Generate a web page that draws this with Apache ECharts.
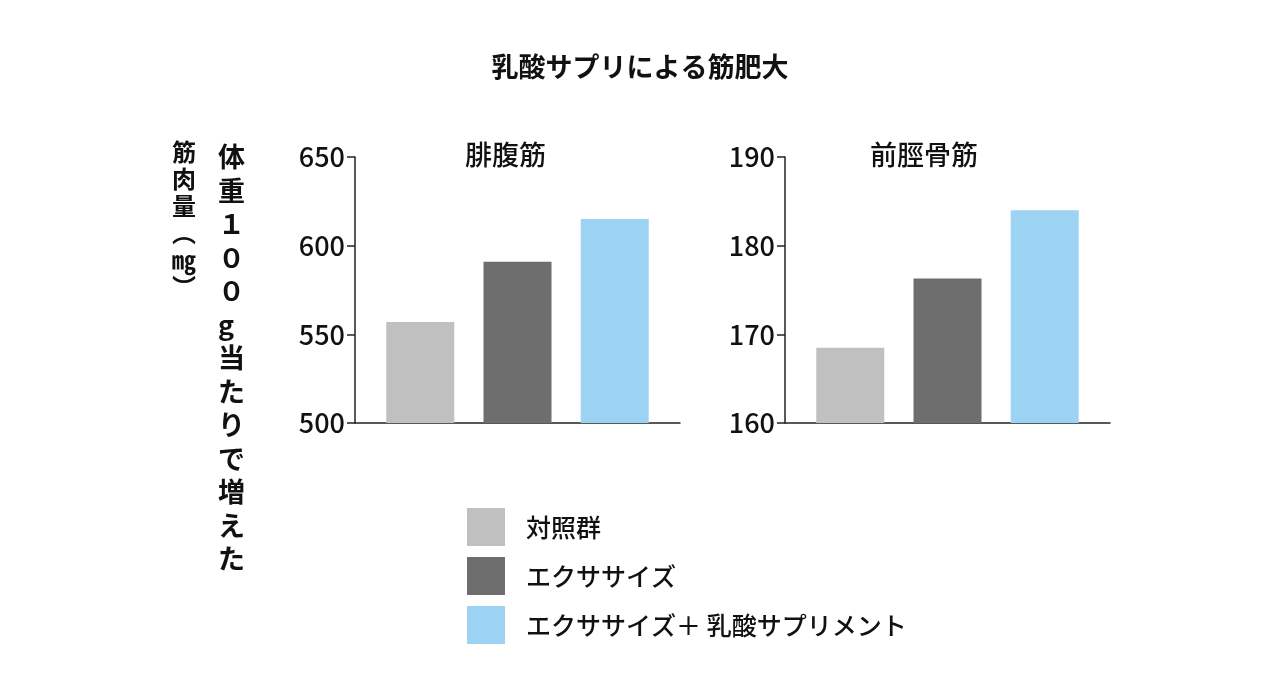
<!DOCTYPE html>
<html><head><meta charset="utf-8">
<script src="https://cdn.jsdelivr.net/npm/echarts@6/dist/echarts.min.js"></script>
<style>html,body{margin:0;background:#fff}#main{width:1280px;height:677px}</style>
</head><body><div id="main"></div>
<script>
const panels = ['腓腹筋', '前脛骨筋'];
const groups = ['対照群', 'エクササイズ', 'エクササイズ＋ 乳酸サプリメント'];
const colors = ['#c0c0c0', '#6e6e6e', '#9dd3f2'];
const calfValues = [557, 591, 615];
const tibialisValues = [168.5, 176.3, 184];
const calfTicks = [500, 650, 50];
const tibialisTicks = [160, 190, 10];

const font = '"Noto Sans CJK JP", "Noto Sans", sans-serif';
const chart = echarts.init(document.getElementById('main'));
const grids = [
  { left: 355, top: 157, width: 325, height: 266 },
  { left: 785, top: 157, width: 325, height: 266 }
];
const yAxis = [calfTicks, tibialisTicks].map((t, i) => ({
  gridIndex: i, min: t[0], max: t[1], interval: t[2],
  axisLine: { show: true, lineStyle: { color: '#222', width: 1.5 } },
  axisTick: { show: true, length: 8, lineStyle: { color: '#222', width: 1.5 } },
  splitLine: { show: false },
  axisLabel: { fontSize: 27, fontWeight: 500, color: '#111', fontFamily: font, margin: 10 }
}));
const xAxis = [0, 1].map(i => ({
  gridIndex: i, type: 'category', data: [''],
  axisLine: { lineStyle: { color: '#222', width: 1.5 } },
  axisTick: { show: false }, axisLabel: { show: false }
}));
const series = [];
groups.forEach((g, k) => {
  [calfValues, tibialisValues].forEach((vals, i) => {
    series.push({
      name: g, type: 'bar', xAxisIndex: i, yAxisIndex: i,
      data: [vals[k]], barWidth: 68, barGap: '43%',
      itemStyle: { color: colors[k] }
    });
  });
});
const vert = s => s.split('').join('\n');
chart.setOption({
  animation: false,
  title: {
    text: '乳酸サプリによる筋肥大', left: 'center', top: 48,
    textStyle: { fontSize: 27, fontWeight: 'bold', color: '#111', fontFamily: font }
  },
  grid: grids, xAxis, yAxis, series,
  legend: {
    orient: 'vertical', left: 462, top: 503, itemWidth: 38, itemHeight: 38, itemGap: 11,
    icon: 'rect', data: groups,
    textStyle: { fontSize: 25, fontWeight: 500, color: '#111', fontFamily: font, padding: [0, 0, 0, 16] }
  },
  graphic: [
    { type: 'text', left: 465, top: 141, style: { text: panels[0], fill: '#111', font: '500 27px ' + font } },
    { type: 'text', left: 870, top: 141, style: { text: panels[1], fill: '#111', font: '500 27px ' + font } },
    { type: 'text', left: 218, top: 140, style: { text: vert('体重１００g当たりで増えた'), font: 'bold 27px ' + font, lineHeight: 33.5, fill: '#111', align: 'center' } },
    { type: 'text', left: 172, top: 138, style: { text: vert('筋肉量︵㎎︶'), font: 'bold 24px ' + font, lineHeight: 27, fill: '#111', align: 'center' } }
  ]
});
</script></body></html>
